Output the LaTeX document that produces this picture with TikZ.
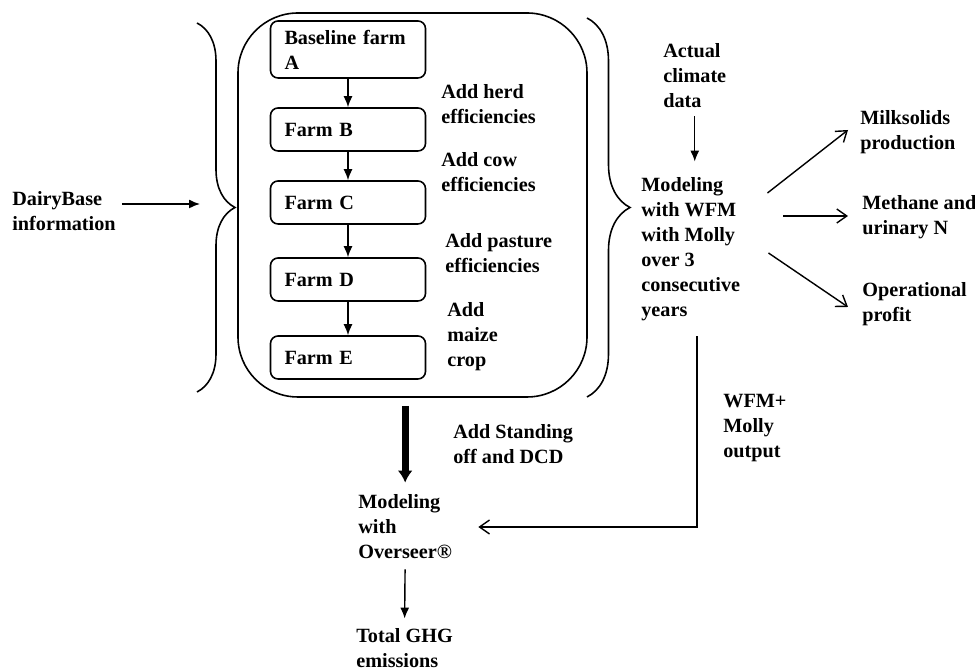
\documentclass[tikz,border=0pt]{standalone}
\usepackage{fontspec}
\setmainfont{Liberation Serif}
\usepackage{tikz}
\usetikzlibrary{arrows.meta,positioning,calc,decorations.pathreplacing}

\begin{document}
\begin{tikzpicture}[
    font=\fontsize{11.5}{14.2}\selectfont\bfseries,
    txt/.style={inner sep=0pt, anchor=west, align=left},
    farm/.style={rectangle, draw, line width=0.9pt, rounded corners=1.5mm, minimum height=0.86cm, text width=2.54cm, inner xsep=0.28cm, align=left},
    scenario/.style={rectangle, draw, line width=0.9pt, rounded corners=1.2cm, minimum width=6.98cm, minimum height=7.68cm},
    bracket/.style={decorate, decoration={brace, amplitude=#1}, line width=0.9pt},
    arrow/.style={-{Latex[length=2.2mm, width=1.8mm]}, line width=0.8pt},
    openarrow/.style={-{Straight Barb[length=2mm, width=2.8mm]}, line width=0.8pt},
    bigarrow/.style={-{Latex[length=2.4mm, width=3mm]}, line width=4pt}
]
\useasboundingbox (0,0) rectangle (19.5,13.4);

% Input
\node[txt] (dairy) at (0.24,9.17) {DairyBase\\information};

% Scenario box with farms A-E
\node[scenario] (scen) at (8.25,9.3) {};
\node[farm, minimum height=1.14cm] (farmA) at (6.96,12.41) {Baseline farm\\A};
\node[farm] (farmB) at (6.96,10.81) {Farm B};
\node[farm] (farmC) at (6.96,9.35) {Farm C};
\node[farm] (farmD) at (6.96,7.81) {Farm D};
\node[farm] (farmE) at (6.96,6.25) {Farm E};

% Steps between farms
\node[txt] (herd) at (8.82,11.31) {Add herd\\efficiencies};
\node[txt] (cow) at (8.82,9.95) {Add cow\\efficiencies};
\node[txt] (pasture) at (8.9,8.33) {Add pasture\\efficiencies};
\node[txt] (maize) at (8.94,6.66) {Add\\maize\\crop};

% Braces round the scenarios
\draw[bracket=0.76cm] (3.94,12.94) -- (3.94,5.56);
\draw[bracket=0.86cm] (11.74,13.04) -- (11.74,5.46);
\coordinate (lbend) at (4.0,9.32);

% WFM with Molly
\node[txt] (climate) at (13.26,11.88) {Actual\\climate\\data};
\node[txt] (wfm) at (12.82,8.41) {Modeling\\with WFM\\with Molly\\over 3\\consecutive\\years};
\node[txt] (milk) at (17.2,10.75) {Milksolids\\production};
\node[txt] (meth) at (17.24,9.05) {Methane and\\urinary N};
\node[txt] (oper) at (17.24,7.31) {Operational\\profit};
\node[txt] (wfmout) at (14.46,4.84) {WFM+\\Molly\\output};
\coordinate (bend) at (13.94,2.86);

% Overseer
\node[txt] (standoff) at (9.06,4.51) {Add Standing\\off and DCD};
\node[txt] (oversr) at (7.16,2.86) {Modeling\\with\\Overseer®};
\node[txt] (ghg) at (7.12,0.43) {Total GHG\\emissions};

% Arrows
\draw[arrow, shorten <=0.12cm] (dairy.east |- lbend) -- (lbend);
\draw[arrow] (farmA.south) -- (farmB.north);
\draw[arrow] (farmB.south) -- (farmC.north);
\draw[arrow] (farmC.south) -- (farmD.north);
\draw[arrow] (farmD.south) -- (farmE.north);
\draw[arrow, shorten <=0.16cm, shorten >=0.32cm] (climate.south) -- (climate.south |- wfm.north);
\draw[openarrow] ([shift={(0.54,1.13)}]wfm.east) -- ([shift={(-0.24,0.05)}]milk.west);
\draw[openarrow] ([shift={(-1.58,0.03)}]meth.west) -- ([shift={(-0.28,0.03)}]meth.west);
\draw[openarrow] ([shift={(0.56,-0.07)}]wfm.east) -- ([shift={(-0.28,-0.05)}]oper.west);
\draw[openarrow, shorten <=0.3cm] (wfm.south -| bend) -- (bend) -- ([xshift=0.52cm]oversr.east);
\draw[bigarrow, shorten <=0.16cm, shorten >=0.24cm] (scen.south -| oversr.north) -- (oversr.north);
\draw[arrow, shorten <=0.2cm, shorten >=0.2cm] (oversr.south) -- (ghg.north);

\end{tikzpicture}
\end{document}
